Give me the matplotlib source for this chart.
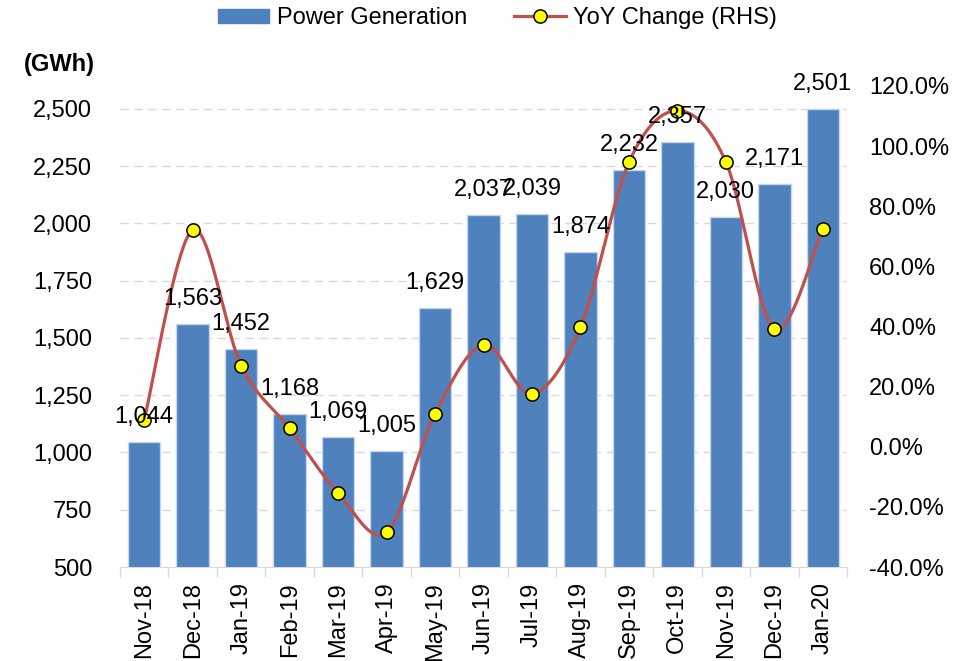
import numpy as np
import matplotlib
matplotlib.use('Agg')
import matplotlib.pyplot as plt
from matplotlib.ticker import FuncFormatter
from matplotlib.lines import Line2D
from matplotlib.patches import Patch

plt.rcParams['font.family'] = ['Liberation Sans', 'DejaVu Sans']
plt.rcParams['font.size'] = 17

months = ['Nov-18', 'Dec-18', 'Jan-19', 'Feb-19', 'Mar-19', 'Apr-19', 'May-19',
          'Jun-19', 'Jul-19', 'Aug-19', 'Sep-19', 'Oct-19', 'Nov-19', 'Dec-19', 'Jan-20']
generation = [1044, 1563, 1452, 1168, 1069, 1005, 1629, 2037, 2039, 1874,
              2232, 2357, 2030, 2171, 2501]
yoy = [9.0, 72.1, 27.0, 6.1, -15.4, -28.4, 11.0, 33.9, 17.6, 39.8,
       94.6, 111.8, 94.8, 39.2, 72.5]

BAR = '#4F81BD'
LINE = '#C0504D'
GRID = '#D9D9D9'
FS = 17


def smooth_curve(x, y, n=40):
    # excel style smoothed line: bezier through points, catmull-rom tangents
    pts = np.column_stack([x, y]).astype(float)
    out = [pts[:1]]
    for i in range(len(pts) - 1):
        p0 = pts[max(i - 1, 0)]
        p1 = pts[i]
        p2 = pts[i + 1]
        p3 = pts[min(i + 2, len(pts) - 1)]
        c1 = p1 + (p2 - p0) / 6.0
        c2 = p2 - (p3 - p1) / 6.0
        t = np.linspace(0, 1, n)[1:, None]
        seg = ((1 - t) ** 3) * p1 + 3 * ((1 - t) ** 2) * t * c1 \
            + 3 * (1 - t) * t ** 2 * c2 + t ** 3 * p2
        out.append(seg)
    arr = np.vstack(out)
    return arr[:, 0], arr[:, 1]


fig = plt.figure(figsize=(9.73, 6.61), dpi=100)
ax = fig.add_axes([120 / 973, 1 - 567 / 661, (847 - 120) / 973, (567 - 86) / 661])
ax2 = ax.twinx()

x = np.arange(len(months))
ax.bar(x, generation, width=0.67, color=BAR, edgecolor='#c6d6eb', linewidth=1, zorder=2)

ax.set_xlim(-0.5, len(months) - 0.5)
ax.set_ylim(500, 2600)
ax.set_yticks(np.arange(500, 2501, 250))
ax.yaxis.set_major_formatter(FuncFormatter(lambda v, p: '{:,.0f}'.format(v)))
ax.set_xticks(x)
ax.set_xticklabels(months, rotation=90)
ax.set_xticks(np.arange(-0.5, len(months), 1), minor=True)
ax.tick_params(axis='x', which='major', length=0, pad=11)
ax.tick_params(axis='x', which='minor', length=7, color=GRID, width=1)
ax.tick_params(axis='y', length=0, pad=20)

for v in np.arange(750, 2501, 250):
    ax.axhline(v, color=GRID, linewidth=1, linestyle=(0, (6, 4)), zorder=1)

for s in ['top', 'left', 'right']:
    ax.spines[s].set_visible(False)
    ax2.spines[s].set_visible(False)
ax.spines['bottom'].set_color(GRID)
ax2.spines['bottom'].set_visible(False)

sx, sy = smooth_curve(x, yoy)
ax2.plot(sx, sy, color=LINE, linewidth=2.3, zorder=3, solid_capstyle='round')
ax2.plot(x, yoy, linestyle='none', marker='o', markersize=9.5,
         markerfacecolor='#FFFF00', markeredgecolor='black', markeredgewidth=1.1, zorder=4)
ax2.set_ylim(-40, 120)
ax2.set_yticks(np.arange(-40, 121, 20))
ax2.yaxis.set_major_formatter(FuncFormatter(lambda v, p: '{:.1f}%'.format(v)))
ax2.tick_params(axis='y', length=0, pad=16)

# data labels on top of everything
for i, v in enumerate(generation):
    ax2.annotate('{:,}'.format(v), xy=(i, v), xycoords=ax.transData,
                 xytext=(0, 18), textcoords='offset points',
                 ha='center', va='center', fontsize=FS, zorder=6)

fig.text(95 / 973, 1 - 65 / 661, '(GWh)', ha='right', va='center',
         fontsize=FS, fontweight='bold')

handles = [Patch(facecolor=BAR, edgecolor=BAR),
           Line2D([0], [0], color=LINE, linewidth=2.3, marker='o', markersize=9.5,
                  markerfacecolor='#FFFF00', markeredgecolor='black', markeredgewidth=1.1)]
fig.legend(handles, ['Power Generation', 'YoY Change (RHS)'], loc='center',
           bbox_to_anchor=(0.511, 1 - 18 / 661), ncol=2, frameon=False,
           handlelength=2.2, handleheight=0.55, columnspacing=2.0, handletextpad=0.3,
           fontsize=FS)

fig.savefig('out.png', dpi=100)
